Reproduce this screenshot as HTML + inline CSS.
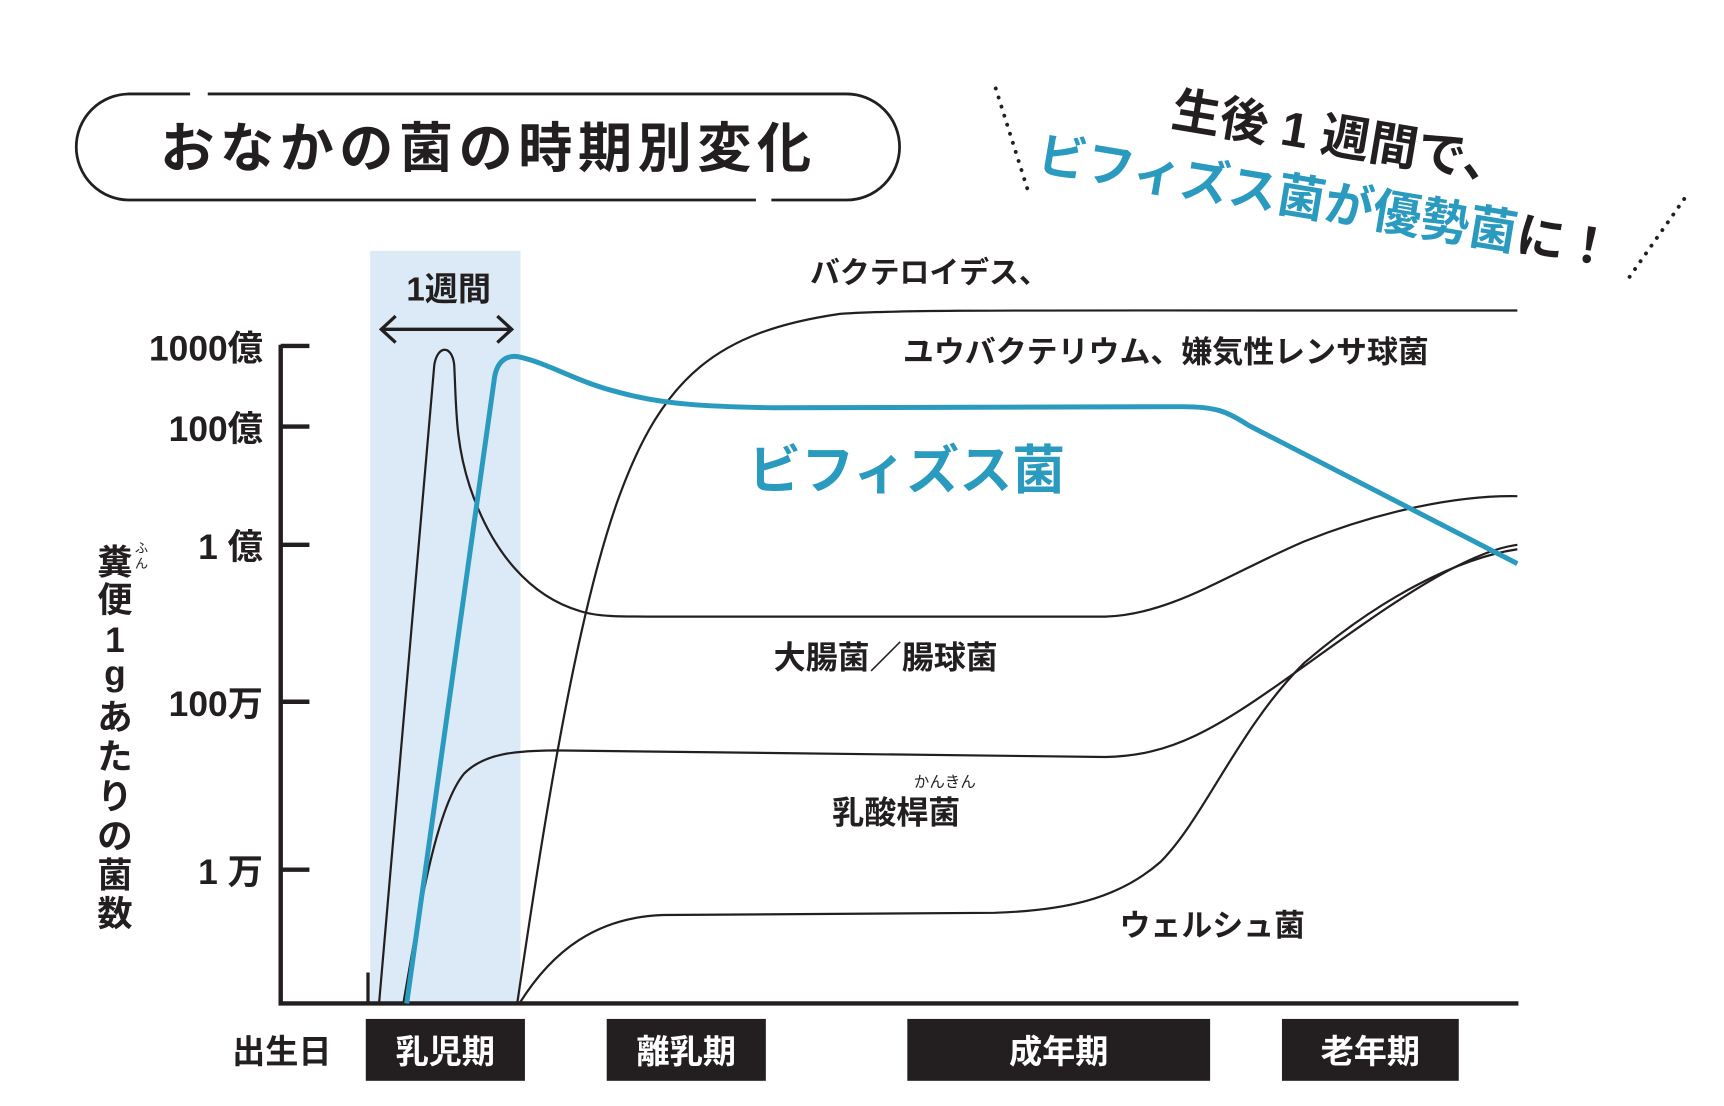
<!DOCTYPE html>
<html><head><meta charset="utf-8"><style>
html,body{margin:0;padding:0;background:#fff;}
svg{display:block;}
text{font-family:"Liberation Sans","Noto Sans CJK JP",sans-serif;}
</style></head><body>
<svg width="1724" height="1106" viewBox="0 0 1560 1000.8" preserveAspectRatio="none" xmlns="http://www.w3.org/2000/svg">
<rect x="0" y="0" width="1560" height="1001" fill="#fff"/>
<!-- title box -->
<rect x="69" y="85" width="745" height="96" rx="48" fill="none" stroke="#231f20" stroke-width="2.5"/>
<rect x="172" y="80" width="16" height="10" fill="#fff"/>
<rect x="684" y="176" width="14" height="10" fill="#fff"/>
<text x="442" y="151" font-size="49" font-weight="bold" fill="#231f20" text-anchor="middle" letter-spacing="5">おなかの菌の時期別変化</text>
<!-- headline -->
<g transform="rotate(9.5 1200 180)">
<text x="1205" y="138" font-size="44" font-weight="bold" fill="#231f20" text-anchor="middle">生後 1 週間で、</text>
<text x="1200" y="198" font-size="44" font-weight="bold" fill="#2a9bbf" text-anchor="middle">ビフィズス菌が優勢菌<tspan fill="#231f20">に！</tspan></text>
</g>
<line x1="901" y1="80" x2="930" y2="172" stroke="#231f20" stroke-width="3.5" stroke-dasharray="0.1 8.5" stroke-linecap="round"/>
<line x1="1524" y1="180" x2="1470" y2="257" stroke="#231f20" stroke-width="3.5" stroke-dasharray="0.1 8.5" stroke-linecap="round"/>
<!-- shaded -->
<rect x="335" y="227" width="136" height="681" fill="#dbeaf6"/>
<text x="406" y="272" font-size="30" font-weight="bold" fill="#231f20" text-anchor="middle">1週間</text>
<line x1="345" y1="298" x2="463" y2="298" stroke="#231f20" stroke-width="3"/>
<polyline points="358,286 345,298 358,310" fill="none" stroke="#231f20" stroke-width="3"/>
<polyline points="450,286 463,298 450,310" fill="none" stroke="#231f20" stroke-width="3"/>
<!-- axes -->
<line x1="254" y1="312" x2="254" y2="909" stroke="#231f20" stroke-width="4"/>
<line x1="252" y1="908" x2="1374" y2="908" stroke="#231f20" stroke-width="4"/>
<line x1="333" y1="880" x2="333" y2="908" stroke="#231f20" stroke-width="3"/>
<g stroke="#231f20" stroke-width="4">
<line x1="254" y1="313" x2="280" y2="313"/><line x1="254" y1="386" x2="280" y2="386"/>
<line x1="254" y1="493" x2="280" y2="493"/><line x1="254" y1="635" x2="280" y2="635"/>
<line x1="254" y1="787" x2="280" y2="787"/>
</g>
<g font-size="32" font-weight="bold" fill="#231f20" text-anchor="end">
<text x="238" y="326">1000億</text><text x="238" y="399">100億</text>
<text x="238" y="506">1 億</text><text x="238" y="648">100万</text><text x="238" y="800">1 万</text>
</g>
<!-- y label -->
<g font-size="32" font-weight="bold" fill="#231f20" text-anchor="middle">
<text x="104" y="520">糞</text><text x="104" y="554">便</text><text x="104" y="590">1</text>
<text x="104" y="620">g</text><text x="104" y="660">あ</text><text x="104" y="696">た</text>
<text x="104" y="732">り</text><text x="104" y="768">の</text><text x="104" y="803">菌</text><text x="104" y="838">数</text>
</g>
<text x="128" y="500" font-size="12" fill="#231f20" text-anchor="middle">ふ</text>
<text x="128" y="514" font-size="12" fill="#231f20" text-anchor="middle">ん</text>
<!-- curves -->
<g fill="none" stroke="#231f20" stroke-width="2">
<path d="M343,908 L393,330 C396,312 409,312 411,330 C413,370 412,400 425,440 C445,500 480,540 525,553 C540,558 560,558 600,558 L1000,558 C1060,556 1110,520 1180,490 C1250,462 1320,448 1373,449"/>
<path d="M365,908 C380,820 395,730 420,700 C440,680 470,680 500,679 L1000,685 C1060,684 1100,660 1170,610 C1240,560 1320,500 1373,493"/>
<path d="M468,908 C490,760 520,560 560,450 C600,340 650,300 760,284 C820,280 900,281 1373,281"/>
<path d="M470,908 C500,860 540,830 600,828 L900,826 C960,824 1010,815 1050,780 C1090,740 1120,660 1180,600 C1250,540 1320,505 1373,497"/>
</g>
<path d="M368,908 L447,345 C449,325 460,321 470,323 C500,330 520,345 560,355 C600,366 640,368 700,369 L1070,368 C1100,368 1110,372 1130,385 L1373,510" fill="none" stroke="#2a9bbf" stroke-width="4.5"/>
<!-- labels -->
<g font-weight="bold" fill="#231f20">
<text x="733" y="256" font-size="27">バクテロイデス、</text>
<text x="817" y="328" font-size="28">ユウバクテリウム、嫌気性レンサ球菌</text>
<text x="700" y="605" font-size="29">大腸菌／腸球菌</text>
<text x="753" y="745" font-size="29">乳酸桿菌</text>
<text x="855" y="712" font-size="14" font-weight="normal" text-anchor="middle">かんきん</text>
<text x="1013" y="847" font-size="28">ウェルシュ菌</text>
</g>
<text x="677" y="442" font-size="48" font-weight="bold" fill="#2a9bbf">ビフィズス菌</text>
<!-- bottom -->
<text x="255" y="962" font-size="30" font-weight="bold" fill="#231f20" text-anchor="middle">出生日</text>
<g fill="#231f20">
<rect x="331" y="922" width="144" height="56"/><rect x="549" y="922" width="144" height="56"/>
<rect x="821" y="922" width="274" height="56"/><rect x="1160" y="922" width="160" height="56"/>
</g>
<g font-size="30" font-weight="bold" fill="#fff" text-anchor="middle">
<text x="403" y="962">乳児期</text><text x="621" y="962">離乳期</text>
<text x="958" y="962">成年期</text><text x="1240" y="962">老年期</text>
</g>
</svg>
</body></html>
